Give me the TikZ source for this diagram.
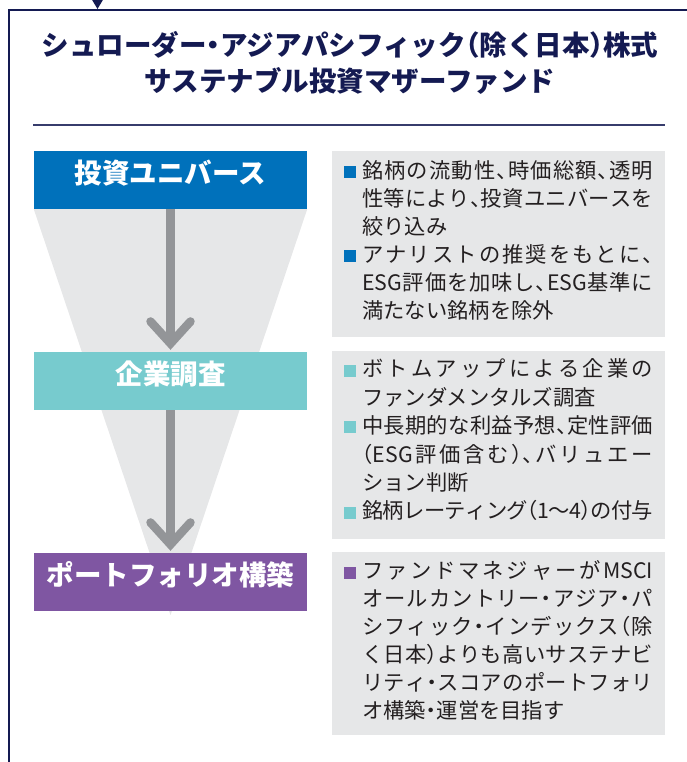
\documentclass[tikz,border=0pt]{standalone}
\usepackage{fontspec}
\setmainfont{Noto Sans CJK JP}[RawFeature=+halt]
\usetikzlibrary{arrows.meta,backgrounds}
\definecolor{navy}{HTML}{141A52}
\definecolor{ublue}{HTML}{0071BB}
\definecolor{uteal}{HTML}{77CBCE}
\definecolor{upurple}{HTML}{7F56A2}
\definecolor{lgray}{HTML}{E6E7E8}
\definecolor{agray}{HTML}{939598}
\definecolor{txt}{HTML}{231F20}
\newskip\jgap \jgap=0pt plus 1fill minus 1pt
\def\sprdA#1{#1\sprdB}
\def\sprdB#1{\ifx\relax#1\else\hskip\jgap#1\expandafter\sprdB\fi}
\newcommand\jline[1]{\makebox[291pt][s]{\sprdA#1\relax}}
\tikzset{
  ttl/.style={inner sep=0pt, text=navy, font=\bfseries\fontsize{27.5}{30}\selectfont, text height=0.88em, text depth=0.12em},
  stage/.style={inner sep=0pt, minimum width=273pt, minimum height=58pt, text=white, font=\bfseries\fontsize{27.5}{30}\selectfont, text height=0.88em, text depth=0.12em},
  tbox/.style={inner sep=0pt, fill=lgray, minimum width=333pt},
  bul/.style={inner sep=0pt, minimum size=12pt},
  ln/.style={inner sep=0pt, anchor=west, text=txt, font=\fontsize{21.3}{21}\selectfont, text height=0.88em, text depth=0.12em},
  flow/.style={draw=agray, line width=8.5pt, -{Straight Barb[length=22pt, width=40pt, line cap=round, line join=miter]}, shorten >=2pt}
}
\begin{document}
\begin{tikzpicture}[x=1pt,y=-1pt]
\useasboundingbox (0,0) rectangle (686,762);
% frame
\coordinate (fb) at (8.8,770);
\coordinate (fc) at (8.8,10);
\coordinate (fr) at (700,10);
\draw[navy, line width=2.3pt] (fb) -- (fc) -- (fr);
\coordinate (ta) at (91.5,-1);
\coordinate (tb) at (103.5,-1);
\coordinate (tc) at (97.5,9);
\fill[navy] (ta) -- (tb) -- (tc) -- cycle;
% title
\node[ttl] (t1) at (350,52) {シュローダー・アジアパシフィック（除く日本）株式};
\node[ttl] (t2) at (350,88) {サステナブル投資マザーファンド};
\coordinate (sl) at (33,125);
\coordinate (sr) at (665,125);
\draw[navy!85, line width=1.1pt] (sl) -- (sr);
% stages
\node[stage, fill=ublue] (s1) at (170.5,180) {投資ユニバース};
\node[stage, fill=uteal] (s2) at (170.5,381) {企業調査};
\node[stage, fill=upurple] (s3) at (170.5,582) {ポートフォリオ構築};
\coordinate (apex) at (170.5,615);
\begin{scope}[on background layer]
\fill[lgray] (s1.south west) -- (s1.south east) -- (apex) -- cycle;
\end{scope}
\draw[flow] (s1.south) -- (s2.north);
\draw[flow] (s2.south) -- (s3.north);
% text boxes
\node[tbox, minimum height=186pt] (r1) at (498,244) {};
\node[tbox, minimum height=188pt] (r2) at (498,445) {};
\node[tbox, minimum height=183pt] (r3) at (498,643.5) {};
% box 1
\node[bul, fill=ublue] (b11) at (350,172) {};
\node[bul, fill=ublue] (b12) at (350,256) {};
\node[ln] (l11) at (362,174.5) {\jline{銘柄の流動性、時価総額、透明}};
\node[ln] (l12) at (362,202.5) {\jline{性等により、投資ユニバースを}};
\node[ln] (l13) at (362,230.5) {絞り込み};
\node[ln] (l14) at (362,258.5) {\jline{アナリストの推奨をもとに、}};
\node[ln] (l15) at (362,286.5) {\jline{{ESG}評価を加味し、{ESG}基準に}};
\node[ln] (l16) at (362,314.5) {満たない銘柄を除外};
% box 2
\node[bul, fill=uteal] (b21) at (350,370.5) {};
\node[bul, fill=uteal] (b22) at (350,427.3) {};
\node[bul, fill=uteal] (b23) at (350,512.5) {};
\node[ln] (l21) at (362,373) {\jline{ボトムアップによる企業の}};
\node[ln] (l22) at (362,401.4) {ファンダメンタルズ調査};
\node[ln] (l23) at (362,429.8) {\jline{中長期的な利益予想、定性評価}};
\node[ln] (l24) at (362,458.2) {\jline{{（ESG}評価含む{）、}バリュエー}};
\node[ln] (l25) at (362,486.6) {ション判断};
\node[ln] (l26) at (362,515) {\jline{銘柄レーティング（1〜4）の付与}};
% box 3
\node[bul, fill=upurple] (b31) at (350,572.5) {};
\node[ln] (l31) at (362,575) {\jline{ファンドマネジャーが{MSCI}}};
\node[ln] (l32) at (362,603) {\jline{オールカントリー・アジア・パ}};
\node[ln] (l33) at (362,631) {\jline{シフィック・インデックス（除}};
\node[ln] (l34) at (362,659) {\jline{く日本）よりも高いサステナビ}};
\node[ln] (l35) at (362,687) {\jline{リティ・スコアのポートフォリ}};
\node[ln] (l36) at (362,715) {オ構築・運営を目指す};
\end{tikzpicture}
\end{document}
